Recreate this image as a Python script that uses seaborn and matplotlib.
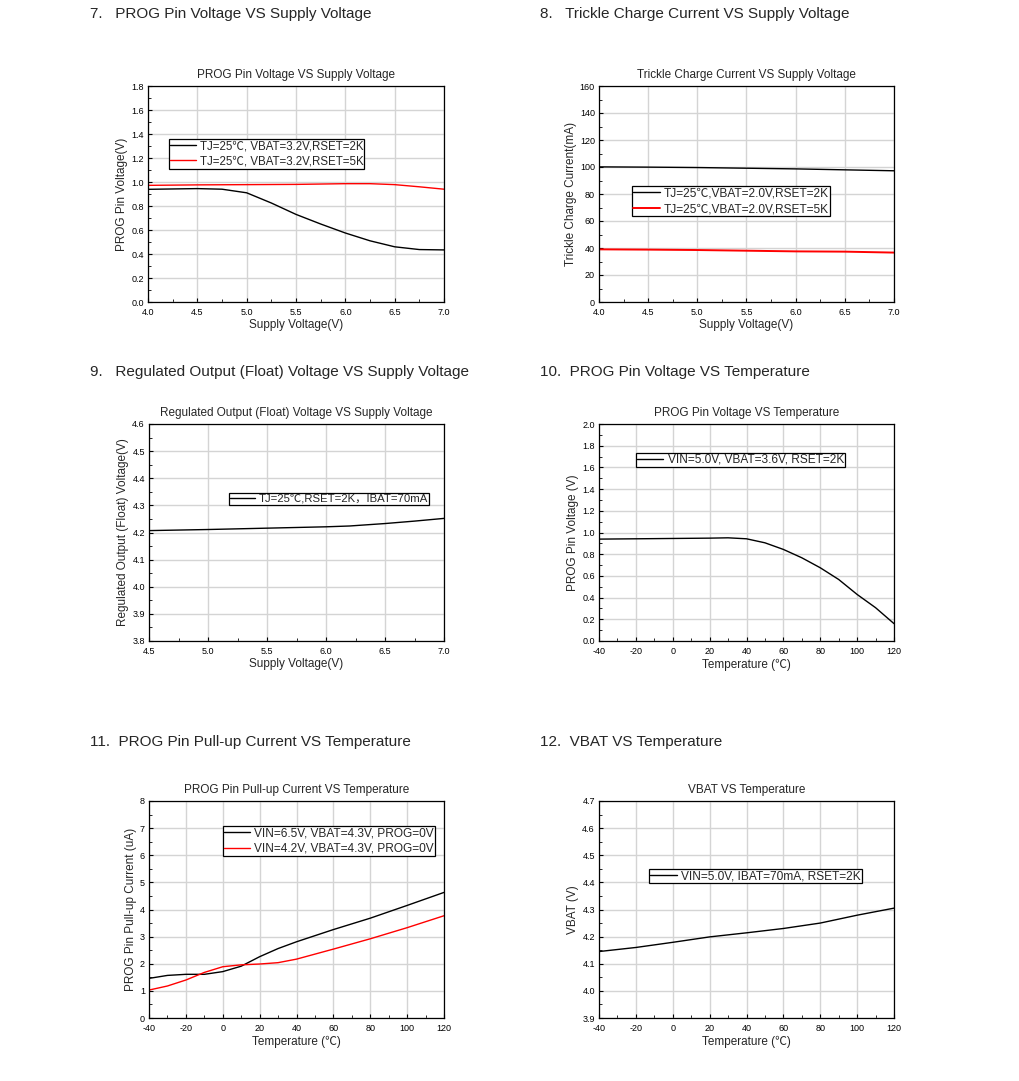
import matplotlib
matplotlib.use("Agg")
import matplotlib.pyplot as plt
import seaborn as sns
import pandas as pd
from matplotlib.ticker import MultipleLocator, FormatStrFormatter

sns.set_style("whitegrid")
plt.rcParams['font.family'] = ['Liberation Sans', 'Noto Sans CJK SC', 'DejaVu Sans']
plt.rcParams['axes.unicode_minus'] = False

# 7. PROG Pin Voltage VS Supply Voltage
vin_7 = [4.0, 4.25, 4.5, 4.75, 5.0, 5.25, 5.5, 5.75, 6.0, 6.25, 6.5, 6.75, 7.0]
prog_2k_7 = [0.939, 0.942, 0.945, 0.940, 0.910, 0.825, 0.730, 0.650, 0.575, 0.510, 0.460, 0.437, 0.434]
prog_5k_7 = [0.972, 0.974, 0.976, 0.977, 0.978, 0.979, 0.980, 0.983, 0.986, 0.986, 0.978, 0.960, 0.940]

# 8. Trickle Charge Current VS Supply Voltage
vin_8 = [4.0, 4.5, 5.0, 5.5, 6.0, 6.5, 7.0]
trickle_2k = [100.1, 99.9, 99.6, 99.1, 98.6, 97.9, 97.2]
trickle_5k = [39.0, 38.8, 38.5, 38.0, 37.5, 37.3, 36.6]

# 9. Regulated Output (Float) Voltage VS Supply Voltage
vin_9 = [4.5, 5.0, 5.5, 6.0, 6.2, 6.5, 6.75, 7.0]
vfloat_9 = [4.207, 4.211, 4.216, 4.221, 4.224, 4.233, 4.242, 4.252]

# 10. PROG Pin Voltage VS Temperature
temp_10 = [-40, -20, 0, 20, 30, 40, 50, 60, 70, 80, 90, 100, 110, 120]
prog_v_10 = [0.939, 0.942, 0.945, 0.948, 0.951, 0.942, 0.905, 0.844, 0.767, 0.675, 0.567, 0.429, 0.307, 0.160]

# 11. PROG Pin Pull-up Current VS Temperature
temp_11 = [-40, -30, -20, -10, 0, 10, 20, 30, 40, 60, 80, 100, 120]
pullup_65 = [1.46, 1.57, 1.61, 1.61, 1.71, 1.91, 2.26, 2.56, 2.81, 3.26, 3.68, 4.15, 4.63]
pullup_42 = [1.03, 1.18, 1.40, 1.68, 1.89, 1.96, 1.99, 2.04, 2.17, 2.54, 2.92, 3.33, 3.77]

# 12. VBAT VS Temperature
temp_12 = [-40, -20, 0, 20, 40, 60, 80, 100, 120]
vbat_12 = [4.145, 4.160, 4.179, 4.199, 4.214, 4.230, 4.250, 4.279, 4.305]

headings = [
    "7.   PROG Pin Voltage VS Supply Voltage",
    "8.   Trickle Charge Current VS Supply Voltage",
    "9.   Regulated Output (Float) Voltage VS Supply Voltage",
    "10.  PROG Pin Voltage VS Temperature",
    "11.  PROG Pin Pull-up Current VS Temperature",
    "12.  VBAT VS Temperature",
]

W, H = 1020, 1081
fig = plt.figure(figsize=(W / 100, H / 100), dpi=100)


def make_ax(left, top, right, bottom):
    return fig.add_axes([left / W, 1 - bottom / H, (right - left) / W, (bottom - top) / H])


def style_ax(ax, title, xlabel, ylabel, xlim, ylim, xmaj, ymaj, xfmt, yfmt):
    ax.set_xlim(*xlim)
    ax.set_ylim(*ylim)
    ax.xaxis.set_major_locator(MultipleLocator(xmaj))
    ax.xaxis.set_minor_locator(MultipleLocator(xmaj / 2))
    ax.yaxis.set_major_locator(MultipleLocator(ymaj))
    ax.yaxis.set_minor_locator(MultipleLocator(ymaj / 2))
    ax.xaxis.set_major_formatter(FormatStrFormatter(xfmt))
    ax.yaxis.set_major_formatter(FormatStrFormatter(yfmt))
    ax.tick_params(which='both', direction='in', labelsize=6.5, colors='black',
                   bottom=True, left=True, top=False, right=False)
    ax.tick_params(axis='x', which='major', pad=4)
    ax.tick_params(axis='y', which='major', pad=3)
    ax.tick_params(which='major', length=3, width=0.8)
    ax.tick_params(which='minor', length=2, width=0.6)
    ax.grid(True, which='major', color='#d4d4d4', linewidth=1.0)
    ax.grid(False, which='minor')
    for sp in ax.spines.values():
        sp.set_color('black')
        sp.set_linewidth(0.9)
    ax.set_title(title, fontsize=8.5, pad=6)
    ax.set_xlabel(xlabel, fontsize=8.5, labelpad=2)
    ax.set_ylabel(ylabel, fontsize=8.5, labelpad=2)


def add_legend(ax, x, y, fs=8.6):
    leg = ax.legend(loc='upper left', bbox_to_anchor=(x, y), fontsize=fs,
                    frameon=True, fancybox=False, framealpha=1, edgecolor='black',
                    borderpad=0.1, handlelength=2.2, handletextpad=0.35,
                    labelspacing=0.3, borderaxespad=0)
    leg.get_frame().set_linewidth(0.9)


# panel 7
ax = make_ax(148, 86, 444, 302)
sns.lineplot(x=vin_7, y=prog_2k_7, ax=ax, color='black', lw=1.0,
             label="TJ=25℃, VBAT=3.2V,RSET=2K")
sns.lineplot(x=vin_7, y=prog_5k_7, ax=ax, color='red', lw=1.0,
             label="TJ=25℃, VBAT=3.2V,RSET=5K")
style_ax(ax, "PROG Pin Voltage VS Supply Voltage", "Supply Voltage(V)", "PROG Pin Voltage(V)",
         (4.0, 7.0), (0, 1.8), 0.5, 0.2, '%.1f', '%.1f')
add_legend(ax, 0.071, 0.755, fs=8.3)

# panel 8
ax = make_ax(599, 86, 894, 302)
sns.lineplot(x=vin_8, y=trickle_2k, ax=ax, color='black', lw=1.0,
             label="TJ=25℃,VBAT=2.0V,RSET=2K")
sns.lineplot(x=vin_8, y=trickle_5k, ax=ax, color='red', lw=1.4,
             label="TJ=25℃,VBAT=2.0V,RSET=5K")
style_ax(ax, "Trickle Charge Current VS Supply Voltage", "Supply Voltage(V)",
         "Trickle Charge Current(mA)", (4.0, 7.0), (0, 160), 0.5, 20, '%.1f', '%d')
add_legend(ax, 0.112, 0.535)

# panel 9
ax = make_ax(149, 424, 444, 641)
sns.lineplot(x=vin_9, y=vfloat_9, ax=ax, color='black', lw=1.0,
             label="TJ=25℃,RSET=2K，IBAT=70mA")
style_ax(ax, "Regulated Output (Float) Voltage VS Supply Voltage", "Supply Voltage(V)",
         "Regulated Output (Float) Voltage(V)", (4.5, 7.0), (3.8, 4.6), 0.5, 0.1, '%.1f', '%.1f')
add_legend(ax, 0.27, 0.683, fs=8.2)

# panel 10
ax = make_ax(599, 424, 894, 641)
sns.lineplot(x=temp_10, y=prog_v_10, ax=ax, color='black', lw=1.0,
             label="VIN=5.0V, VBAT=3.6V, RSET=2K")
style_ax(ax, "PROG Pin Voltage VS Temperature", "Temperature (℃)", "PROG Pin Voltage (V)",
         (-40, 120), (0, 2.0), 20, 0.2, '%d', '%.1f')
add_legend(ax, 0.125, 0.868)

# panel 11
ax = make_ax(149, 801, 444, 1018)
sns.lineplot(x=temp_11, y=pullup_65, ax=ax, color='black', lw=1.0,
             label="VIN=6.5V, VBAT=4.3V, PROG=0V")
sns.lineplot(x=temp_11, y=pullup_42, ax=ax, color='red', lw=1.0,
             label="VIN=4.2V, VBAT=4.3V, PROG=0V")
style_ax(ax, "PROG Pin Pull-up Current VS Temperature", "Temperature (℃)",
         "PROG Pin Pull-up Current (uA)", (-40, 120), (0, 8), 20, 1, '%d', '%d')
add_legend(ax, 0.25, 0.885)

# panel 12
ax = make_ax(599, 801, 894, 1018)
sns.lineplot(x=temp_12, y=vbat_12, ax=ax, color='black', lw=1.0,
             label="VIN=5.0V, IBAT=70mA, RSET=2K")
style_ax(ax, "VBAT VS Temperature", "Temperature (℃)", "VBAT (V)",
         (-40, 120), (3.9, 4.7), 20, 0.1, '%d', '%.1f')
add_legend(ax, 0.17, 0.687)

# section headings
head_pos = [(90, 14), (540, 14), (90, 372), (540, 372), (90, 742), (540, 742)]
for (hx, hy), txt in zip(head_pos, headings):
    fig.text(hx / W, 1 - hy / H, txt, fontsize=11, ha='left', va='center')

fig.savefig("out.png", dpi=100, facecolor='white')
